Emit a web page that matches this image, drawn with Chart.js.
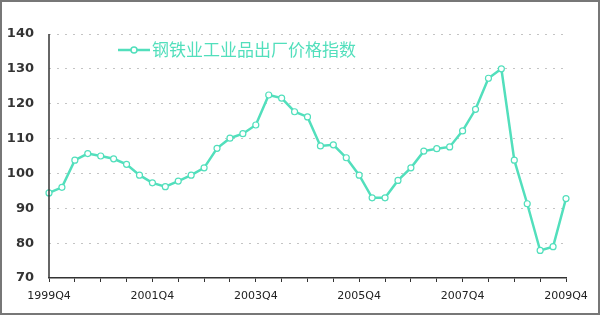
<!DOCTYPE html>
<html><head><meta charset="utf-8">
<script src="https://cdn.jsdelivr.net/npm/chart.js@4/dist/chart.umd.min.js"></script>
<style>html,body{margin:0;padding:0;background:#fff}#wrap{width:600px;height:315px;position:relative}</style>
</head><body><div id="wrap"><canvas id="c" width="600" height="315"></canvas></div>
<script>
const seriesName = "钢铁业工业品出厂价格指数";
const quarters = [];
for (let y = 1999; y <= 2009; y++) for (let q = 1; q <= 4; q++) { if (y === 1999 && q < 4) continue; if (y === 2009 && q > 4) continue; quarters.push(y + "Q" + q); }
const categories = quarters; // 1999Q4 .. 2009Q4 (41 quarters)
const values = [94.4, 96.0, 103.8, 105.7, 105.0, 104.2, 102.6, 99.5, 97.3, 96.2, 97.8, 99.5,
  101.6, 107.2, 110.1, 111.4, 113.9, 122.5, 121.6, 117.7, 116.2, 107.9, 108.2, 104.5, 99.5, 93.0,
  93.0, 98.0, 101.6, 106.4, 107.1, 107.6, 112.2, 118.4, 127.3, 130.0, 103.8, 91.3, 77.9, 79.0, 92.8];
const yTicks = [70, 80, 90, 100, 110, 120, 130, 140];
const xLabelEvery = 8;
const lineColor = "#52dfbc";

const legendPlugin = {
  id: 'customLegend',
  afterDraw(chart) {
    const ctx = chart.ctx;
    ctx.save();
    const y = 50, x0 = 118;
    ctx.strokeStyle = lineColor; ctx.lineWidth = 2.5;
    ctx.beginPath(); ctx.moveTo(x0, y); ctx.lineTo(x0 + 32, y); ctx.stroke();
    ctx.fillStyle = '#fff'; ctx.lineWidth = 1.5;
    ctx.beginPath(); ctx.arc(x0 + 16, y, 3, 0, Math.PI * 2); ctx.fill(); ctx.stroke();
    ctx.fillStyle = lineColor;
    ctx.font = '17px "Noto Sans CJK SC"';
    ctx.textBaseline = 'middle';
    ctx.fillText(seriesName, x0 + 34, y);
    // y axis line (solid)
    const a = chart.chartArea;
    ctx.strokeStyle = '#333'; ctx.lineWidth = 1.5;
    ctx.beginPath(); ctx.moveTo(a.left, a.top); ctx.lineTo(a.left, a.bottom); ctx.stroke();
    // frame
    ctx.strokeStyle = '#777'; ctx.lineWidth = 2;
    ctx.strokeRect(1, 1, 598, 313);
    ctx.restore();
  }
};

new Chart(document.getElementById('c'), {
  type: 'line',
  data: { labels: categories, datasets: [{
    label: seriesName, data: values, borderColor: lineColor, borderWidth: 2.5,
    pointRadius: 3, pointBackgroundColor: '#fff', pointBorderColor: lineColor, pointBorderWidth: 1.2,
    tension: 0, fill: false
  }]},
  options: {
    responsive: false, animation: false,
    layout: { padding: { top: 34, right: 34, left: 0, bottom: 0 } },
    plugins: { legend: { display: false }, tooltip: { enabled: false } },
    scales: {
      x: {
        offset: false,
        afterFit(s) { s.height = 37; },
        border: { color: '#333', width: 1.5 },
        grid: { drawOnChartArea: false, drawTicks: true, tickLength: 4,
          color: c => (c.index % 2 === 0 ? '#333' : 'rgba(0,0,0,0)') },
        ticks: { autoSkip: false, maxRotation: 0, padding: 8, color: '#222',
          font: { family: 'DejaVu Sans', size: 11 },
          callback: (v, i) => (i % xLabelEvery === 0 ? categories[i] : '') }
      },
      y: {
        min: yTicks[0], max: yTicks[yTicks.length - 1],
        afterFit(s) { s.width = 49; },
        afterBuildTicks(s) { s.ticks = yTicks.map(v => ({ value: v })); },
        border: { display: false, dash: [2, 6] },
        grid: { drawTicks: false, color: c => (c.tick.value === 70 ? 'rgba(0,0,0,0)' : '#c4c4c4'), lineWidth: 1 },
        ticks: { padding: 15, color: '#333', font: { family: 'DejaVu Sans', size: 13, weight: 'bold' } }
      }
    }
  },
  plugins: [legendPlugin]
});
</script></body></html>
